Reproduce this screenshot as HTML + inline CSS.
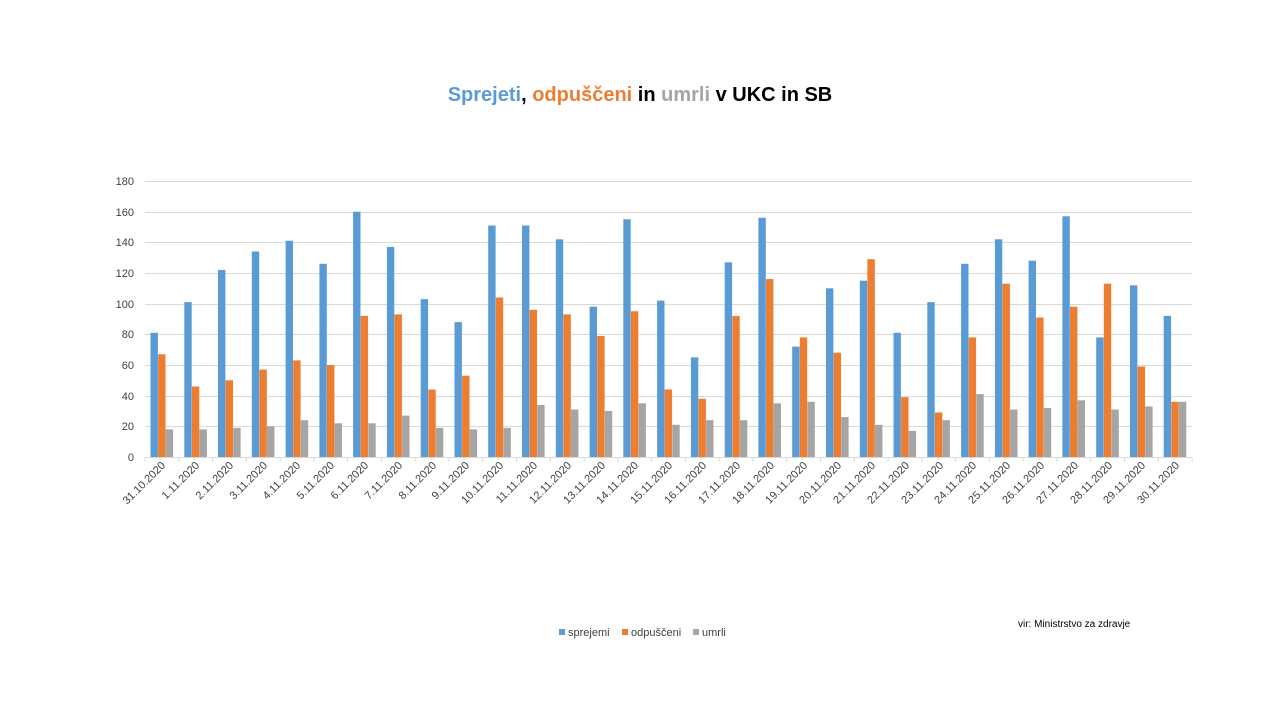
<!DOCTYPE html>
<html><head><meta charset="utf-8"><style>
body{margin:0;background:#fff;width:1280px;height:720px;overflow:hidden;font-family:"Liberation Sans",sans-serif}
</style></head><body>
<svg width="1280" height="720" xmlns="http://www.w3.org/2000/svg" font-family="Liberation Sans, sans-serif">
<text x="640" y="101" text-anchor="middle" font-size="20" font-weight="bold" fill="#000"><tspan fill="#5B9BD5">Sprejeti</tspan>, <tspan fill="#ED7D31">odpuščeni</tspan> in <tspan fill="#A5A5A5">umrli</tspan> v UKC in SB</text>
<g stroke="#d9d9d9" stroke-width="1">
<line x1="145" x2="1192" y1="181.5" y2="181.5"/><line x1="145" x2="1192" y1="212.5" y2="212.5"/><line x1="145" x2="1192" y1="242.5" y2="242.5"/><line x1="145" x2="1192" y1="273.5" y2="273.5"/><line x1="145" x2="1192" y1="304.5" y2="304.5"/><line x1="145" x2="1192" y1="334.5" y2="334.5"/><line x1="145" x2="1192" y1="365.5" y2="365.5"/><line x1="145" x2="1192" y1="396.5" y2="396.5"/><line x1="145" x2="1192" y1="426.5" y2="426.5"/><line x1="145" x2="1192" y1="457.5" y2="457.5"/>
</g>
<g font-size="11" fill="#404040" text-anchor="end">
<text x="134" y="185">180</text><text x="134" y="216">160</text><text x="134" y="246">140</text><text x="134" y="277">120</text><text x="134" y="308">100</text><text x="134" y="338">80</text><text x="134" y="369">60</text><text x="134" y="400">40</text><text x="134" y="430">20</text><text x="134" y="461">0</text>
</g>
<g id="bars"></g>
<g id="ticks" stroke="#d9d9d9"></g>
<g font-size="11" fill="#404040" text-anchor="end" id="lbl">
<text transform="translate(166,466) rotate(-45)">31.10.2020</text>
<text transform="translate(200,466) rotate(-45)">1.11.2020</text>
<text transform="translate(234,466) rotate(-45)">2.11.2020</text>
<text transform="translate(268,466) rotate(-45)">3.11.2020</text>
<text transform="translate(301,466) rotate(-45)">4.11.2020</text>
<text transform="translate(335,466) rotate(-45)">5.11.2020</text>
<text transform="translate(369,466) rotate(-45)">6.11.2020</text>
<text transform="translate(403,466) rotate(-45)">7.11.2020</text>
<text transform="translate(437,466) rotate(-45)">8.11.2020</text>
<text transform="translate(470,466) rotate(-45)">9.11.2020</text>
<text transform="translate(504,466) rotate(-45)">10.11.2020</text>
<text transform="translate(538,466) rotate(-45)">11.11.2020</text>
<text transform="translate(572,466) rotate(-45)">12.11.2020</text>
<text transform="translate(606,466) rotate(-45)">13.11.2020</text>
<text transform="translate(639,466) rotate(-45)">14.11.2020</text>
<text transform="translate(673,466) rotate(-45)">15.11.2020</text>
<text transform="translate(707,466) rotate(-45)">16.11.2020</text>
<text transform="translate(741,466) rotate(-45)">17.11.2020</text>
<text transform="translate(775,466) rotate(-45)">18.11.2020</text>
<text transform="translate(808,466) rotate(-45)">19.11.2020</text>
<text transform="translate(842,466) rotate(-45)">20.11.2020</text>
<text transform="translate(876,466) rotate(-45)">21.11.2020</text>
<text transform="translate(910,466) rotate(-45)">22.11.2020</text>
<text transform="translate(944,466) rotate(-45)">23.11.2020</text>
<text transform="translate(977,466) rotate(-45)">24.11.2020</text>
<text transform="translate(1011,466) rotate(-45)">25.11.2020</text>
<text transform="translate(1045,466) rotate(-45)">26.11.2020</text>
<text transform="translate(1079,466) rotate(-45)">27.11.2020</text>
<text transform="translate(1113,466) rotate(-45)">28.11.2020</text>
<text transform="translate(1146,466) rotate(-45)">29.11.2020</text>
<text transform="translate(1180,466) rotate(-45)">30.11.2020</text>
</g>
<rect x="559" y="629" width="6" height="6" fill="#5B9BD5"/><text x="568" y="636" font-size="11" fill="#404040">sprejemi</text>
<rect x="622" y="629" width="6" height="6" fill="#ED7D31"/><text x="631" y="636" font-size="11" fill="#404040">odpuščeni</text>
<rect x="693" y="629" width="6" height="6" fill="#A5A5A5"/><text x="702" y="636" font-size="11" fill="#404040">umrli</text>
<text x="1018" y="627" font-size="10" fill="#000">vir: Ministrstvo za zdravje</text>
</svg>
<script>
var b=[81,101,122,134,141,126,160,137,103,88,151,151,142,98,155,102,65,127,156,72,110,115,81,101,126,142,128,157,78,112,92];
var o=[67,46,50,57,63,60,92,93,44,53,104,96,93,79,95,44,38,92,116,78,68,129,39,29,78,113,91,98,113,59,36];
var g=[18,18,19,20,24,22,22,27,19,18,19,34,31,30,35,21,24,24,35,36,26,21,17,24,41,31,32,37,31,33,36];
var s=[[b,"#5B9BD5"],[o,"#ED7D31"],[g,"#A5A5A5"]],h="",t="",cw=(1192-145)/31,k=276/180;
for(var i=0;i<31;i++){var x0=145+i*cw;
for(var j=0;j<3;j++){var v=s[j][0][i],hh=v*k;h+='<rect x="'+(x0+5.5+j*7.6).toFixed(1)+'" y="'+(457-hh).toFixed(1)+'" width="7.4" height="'+hh.toFixed(1)+'" fill="'+s[j][1]+'"/>';}
t+='<line x1="'+x0.toFixed(1)+'" x2="'+x0.toFixed(1)+'" y1="457" y2="462"/>';}
t+='<line x1="1192" x2="1192" y1="457" y2="462"/>';
document.getElementById("bars").innerHTML=h;document.getElementById("ticks").innerHTML=t;
</script>
</body></html>
